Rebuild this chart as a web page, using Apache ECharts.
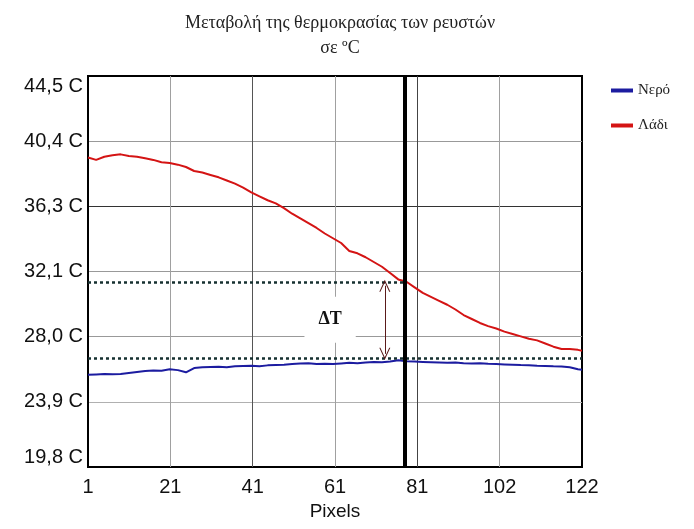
<!DOCTYPE html>
<html>
<head>
<meta charset="utf-8">
<script src="https://cdn.jsdelivr.net/npm/echarts@6/dist/echarts.min.js"></script>
<style>
  html, body { margin: 0; padding: 0; background: #fff; }
  #container { width: 694px; height: 529px; }
</style>
</head>
<body>
<div id="container"></div>
<script>
var xTickLabels = ["1", "21", "41", "61", "81", "102", "122"];
var yTickLabels = ["19,8 C", "23,9 C", "28,0 C", "32,1 C", "36,3 C", "40,4 C", "44,5 C"];

var oilX = [1, 3, 5, 7, 9, 11, 13, 15, 17, 19, 21, 23, 25, 27, 29, 31, 33, 35, 37, 39,
  41, 43, 45, 47, 49, 51, 53, 55, 57, 59, 61, 63, 65, 67, 69, 71, 73, 75, 77, 79,
  81, 83, 85, 87, 89, 91, 93, 95, 97, 99, 101, 103, 105, 107, 109, 111, 113, 115, 117, 119, 121, 122];
var oilT = [39.35, 39.2, 39.4, 39.5, 39.55, 39.45, 39.4, 39.3, 39.2, 39.05, 39.0, 38.9, 38.75, 38.5, 38.4, 38.25, 38.1, 37.9, 37.7, 37.45,
  37.15, 36.9, 36.65, 36.45, 36.15, 35.8, 35.5, 35.2, 34.9, 34.55, 34.25, 33.95, 33.45, 33.3, 33.05, 32.75, 32.45, 32.05, 31.65, 31.5,
  31.15, 30.8, 30.55, 30.3, 30.05, 29.75, 29.4, 29.15, 28.9, 28.7, 28.55, 28.35, 28.2, 28.05, 27.9, 27.8, 27.6, 27.4, 27.25, 27.25, 27.2, 27.15];

var waterX = oilX;
var waterT = [25.62, 25.65, 25.68, 25.66, 25.68, 25.74, 25.8, 25.86, 25.9, 25.88, 25.97, 25.92, 25.78, 26.05, 26.1, 26.12, 26.14, 26.1, 26.16, 26.18,
  26.2, 26.16, 26.22, 26.24, 26.26, 26.3, 26.34, 26.36, 26.3, 26.32, 26.3, 26.34, 26.38, 26.36, 26.4, 26.44, 26.42, 26.46, 26.54, 26.48,
  26.46, 26.44, 26.42, 26.4, 26.38, 26.4, 26.36, 26.34, 26.36, 26.32, 26.3, 26.28, 26.26, 26.24, 26.23, 26.2, 26.18, 26.16, 26.15, 26.1, 25.98, 25.95];

// annotation values
var cursorX = 78.6;
var oilLevel = 31.5;
var waterLevel = 26.7;
var arrowX = 73.7;

var xMin = 1, xMax = 122, xStep = (xMax - xMin) / 6;
var yMin = 19.8, yMax = 44.5, yStep = (yMax - yMin) / 6;

function pairs(xs, ys) {
  return xs.map(function (x, i) { return [x, ys[i]]; });
}

var dom = document.getElementById("container");
var myChart = echarts.init(dom, null, { renderer: "canvas" });

var serif = "Liberation Serif, DejaVu Serif, serif";
var sans = "Liberation Sans, Arial, sans-serif";
var chevron = "path://M0,0 L6,12 L4.8,12 L0,2.6 L-4.8,12 L-6,12 Z";

var option = {
  backgroundColor: "#fff",
  animation: false,
  title: {
    text: "Μεταβολή της θερμοκρασίας των ρευστών\nσε ºC",
    left: 335,
    textAlign: "center",
    top: 6,
    textStyle: {
      fontFamily: serif,
      fontWeight: "normal",
      fontSize: 18,
      lineHeight: 25,
      color: "#222"
    }
  },
  legend: {
    orient: "vertical",
    left: 606,
    top: 78,
    itemGap: 20,
    itemWidth: 22,
    itemHeight: 4,
    icon: "rect",
    textStyle: { fontFamily: serif, fontSize: 15, color: "#222" },
    data: ["Νερό", "Λάδι"]
  },
  grid: {
    left: 88,
    right: 112,
    top: 76,
    bottom: 62,
    show: true,
    borderColor: "#000",
    borderWidth: 2
  },
  xAxis: {
    type: "value",
    min: xMin,
    max: xMax,
    interval: xStep,
    name: "Pixels",
    nameLocation: "middle",
    nameGap: 34,
    nameTextStyle: { fontFamily: sans, fontSize: 19, color: "#111" },
    axisLine: { show: false },
    axisTick: { show: false },
    axisLabel: {
      margin: 10,
      fontFamily: sans,
      fontSize: 20,
      color: "#111",
      formatter: function (v) {
        return xTickLabels[Math.round((v - xMin) / xStep)];
      }
    },
    splitLine: {
      show: true,
      lineStyle: { color: ["#000", "#a0a0a0", "#555", "#a0a0a0", "#444", "#a0a0a0", "#000"], width: 1 }
    }
  },
  yAxis: {
    type: "value",
    min: yMin,
    max: yMax,
    interval: yStep,
    axisLine: { show: false },
    axisTick: { show: false },
    axisLabel: {
      margin: 5,
      fontFamily: sans,
      fontSize: 20,
      color: "#111",
      verticalAlignMaxLabel: "top",
      verticalAlignMinLabel: "bottom",
      formatter: function (v) {
        return yTickLabels[Math.round((v - yMin) / yStep)];
      }
    },
    splitLine: {
      show: true,
      lineStyle: { color: ["#000", "#b0b0b0", "#999", "#999", "#333", "#999", "#000"], width: 1 }
    }
  },
  series: [
    {
      name: "Νερό",
      type: "line",
      showSymbol: false,
      symbol: "none",
      data: pairs(waterX, waterT),
      lineStyle: { color: "#1c1ca0", width: 2 },
      itemStyle: { color: "#1c1ca0" },
      z: 3,
      markLine: {
        silent: true,
        symbol: "none",
        label: { show: false },
        data: [
          [
            { coord: [xMin, waterLevel], lineStyle: { color: "#163030", width: 2.5, type: [3, 3] } },
            { coord: [xMax, waterLevel] }
          ],
          [
            { coord: [xMin, oilLevel], lineStyle: { color: "#163030", width: 2.5, type: [3, 3] } },
            { coord: [cursorX, oilLevel] }
          ],
          { xAxis: cursorX, lineStyle: { color: "#000", width: 4, type: "solid" } }
        ]
      },
      markPoint: {
        silent: true,
        symbol: "circle",
        symbolSize: 0,
        data: [{ coord: [60.3, 29.1] }],
        label: {
          show: true,
          formatter: "ΔT",
          fontFamily: serif,
          fontWeight: "bold",
          fontSize: 18,
          color: "#111",
          backgroundColor: "#fff",
          padding: [14, 14]
        }
      }
    },
    {
      name: "Λάδι",
      type: "line",
      showSymbol: false,
      symbol: "none",
      data: pairs(oilX, oilT),
      lineStyle: { color: "#d41414", width: 2 },
      itemStyle: { color: "#d41414" },
      z: 4,
      markLine: {
        silent: true,
        symbol: [chevron, chevron],
        symbolSize: [11, 12],
        label: { show: false },
        data: [
          [
            { coord: [arrowX, 31.25], lineStyle: { color: "#5a1a1a", width: 1, type: "solid" }, itemStyle: { color: "#5a1a1a" } },
            { coord: [arrowX, 26.95] }
          ]
        ]
      }
    }
  ]
};

myChart.setOption(option);

window.addEventListener("resize", myChart.resize);
</script>
</body>
</html>
